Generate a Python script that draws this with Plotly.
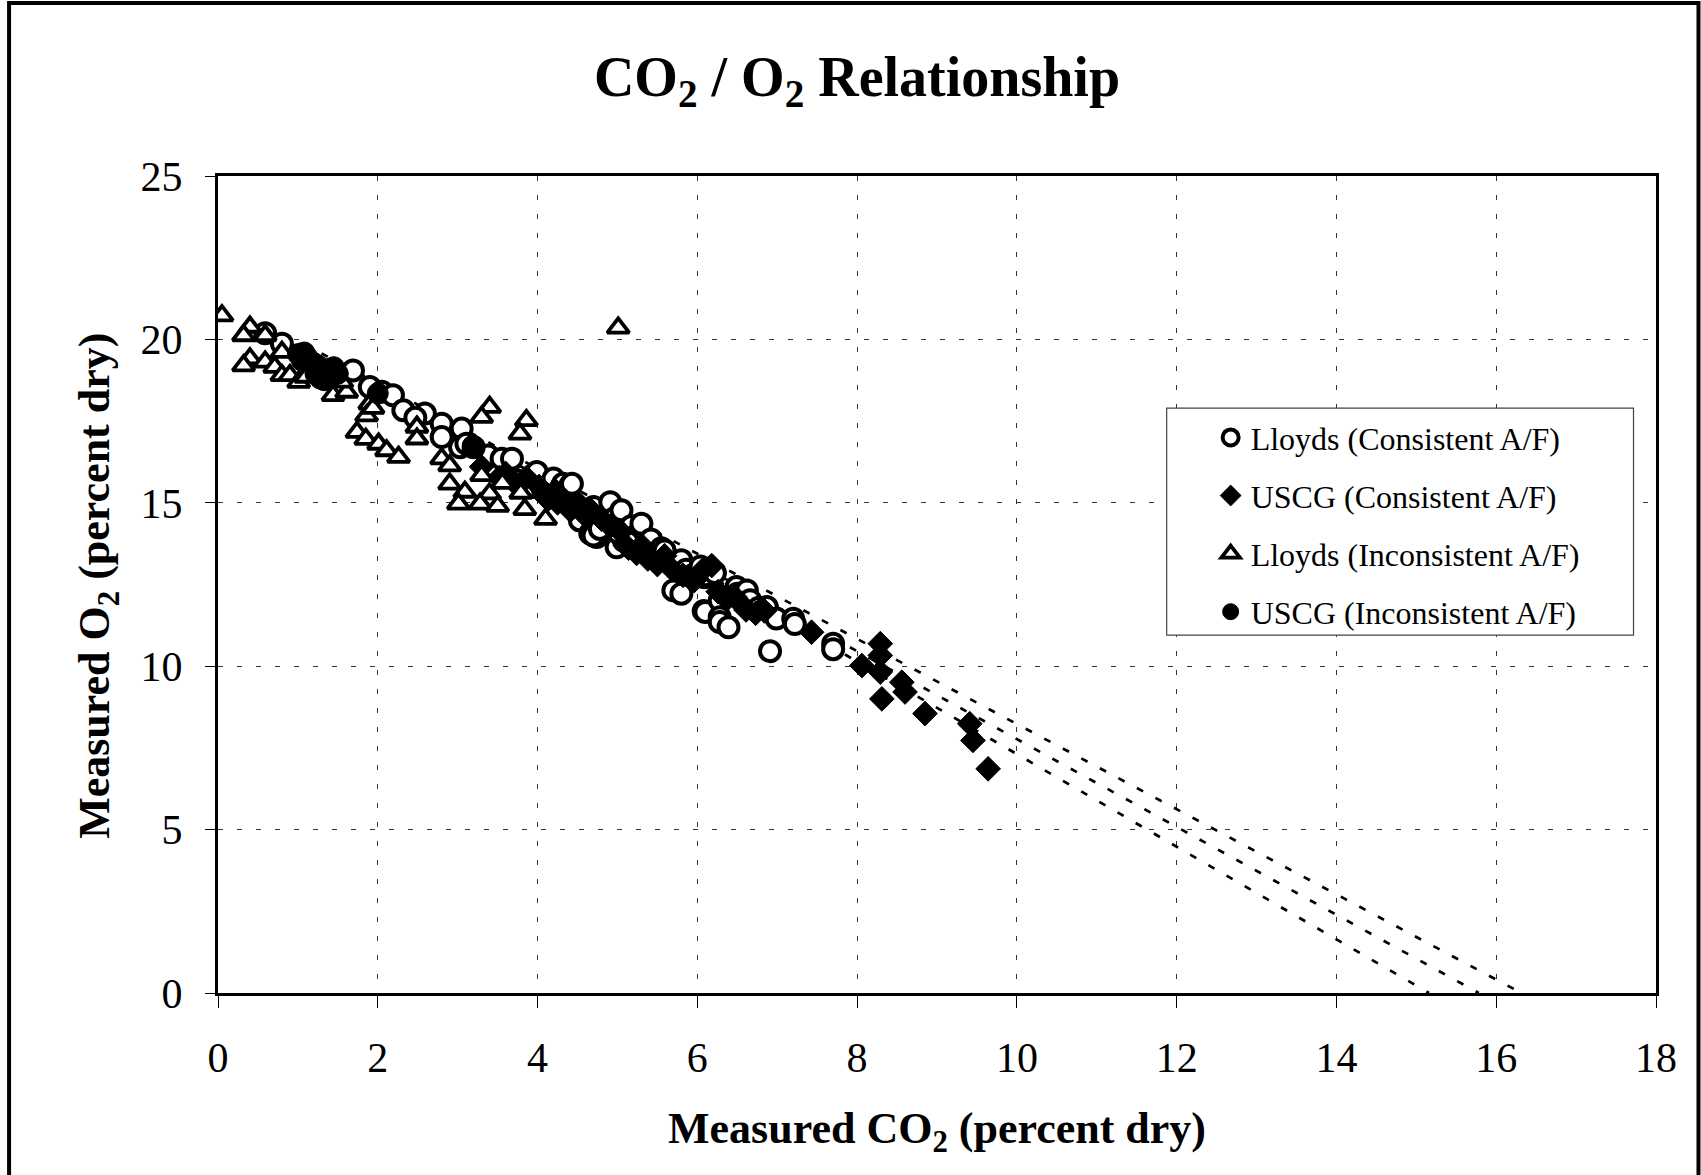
import plotly.graph_objects as go

W, H = 1701, 1175
L, R, T, B = 218, 1656.5, 176, 992.6   # plot area in pixels

# ---------------- data ----------------
lloyds_con_co2 = [0.59, 0.80, 1.69, 1.90, 2.05, 2.19, 2.32, 2.59, 2.80, 2.80, 3.05, 3.03, 3.11, 3.38, 3.55,
                  3.68, 3.74, 3.84, 3.94, 3.99, 4.07, 4.11, 4.20, 4.30, 4.32, 4.41, 4.43, 4.53, 4.66, 4.70,
                  4.74, 4.82, 4.91, 4.97, 4.99, 5.05, 5.08, 5.17, 5.20, 5.30, 5.31, 5.39, 5.42, 5.48, 5.55,
                  5.59, 5.70, 5.77, 5.80, 5.80, 5.86, 5.95, 6.04, 6.08, 6.09, 6.10, 6.10, 6.22, 6.28, 6.28,
                  6.28, 6.39, 6.49, 6.50, 6.62, 6.66, 6.77, 6.87, 6.91, 6.99, 7.20, 7.22, 7.70, 7.70, 4.66,
                  4.70, 4.78, 5.00, 5.13, 3.20, 2.47]
lloyds_con_o2 = [20.19, 19.87, 19.05, 18.54, 18.40, 18.29, 17.83, 17.73, 17.42, 17.01, 17.27, 16.70, 16.81, 16.45, 16.35,
                 16.35, 15.69, 15.58, 15.48, 15.94, 15.38, 15.28, 15.74, 15.48, 15.58, 15.53, 15.58, 14.46, 14.67, 14.87,
                 13.95, 14.16, 15.02, 14.54, 13.64, 14.77, 13.84, 14.28, 13.95, 14.36, 13.55, 13.64, 13.88, 13.28, 13.61,
                 13.54, 12.32, 13.11, 13.24, 12.22, 12.95, 12.80, 13.05, 11.69, 12.72, 12.78, 11.66, 12.85, 12.01, 11.50,
                 11.35, 11.19, 12.42, 12.22, 12.32, 12.02, 11.79, 11.81, 10.46, 11.46, 11.45, 11.29, 10.69, 10.52, 14.06,
                 14.00, 14.20, 14.10, 13.80, 16.70, 17.60]

uscg_con_co2 = [3.30, 3.52, 3.60, 3.69, 3.86, 4.02, 4.13, 4.22, 4.25, 4.33, 4.41, 4.53, 4.60, 4.67, 4.80,
                4.91, 5.04, 5.14, 5.24, 5.30, 5.38, 5.50, 5.59, 5.69, 5.82, 5.96, 6.07, 6.18, 6.26, 6.37,
                6.47, 6.55, 6.61, 6.73, 6.84, 7.43, 8.06, 8.29, 8.29, 8.29, 8.31, 8.56, 8.60, 8.85, 9.41,
                9.45, 9.64]
uscg_con_o2 = [16.10, 15.77, 15.90, 15.67, 15.77, 15.50, 15.10, 15.37, 15.00, 15.04, 14.77, 14.94, 14.60, 14.77, 14.50,
               14.28, 14.11, 13.61, 13.45, 13.70, 13.28, 13.11, 13.38, 12.95, 12.78, 12.62, 12.95, 13.08, 12.28, 12.05,
               12.12, 11.90, 11.72, 11.62, 11.69, 11.04, 10.02, 10.69, 10.33, 9.82, 9.00, 9.51, 9.21, 8.55, 8.24,
               7.73, 6.86]

lloyds_incon_co2 = [0.05, 0.40, 0.32, 0.59, 0.40, 0.32, 0.59, 0.71, 0.80, 0.90, 1.01, 0.80, 1.44, 1.61, 1.90,
                    1.86, 1.74, 1.85, 1.94, 2.01, 2.11, 2.26, 2.49, 2.49, 2.80, 2.90, 2.90, 3.09, 3.01, 3.30,
                    3.40, 3.28, 3.40, 3.30, 3.86, 3.78, 3.50, 3.56, 3.79, 3.84, 4.10, 5.01, 1.10, 1.55]
lloyds_incon_o2 = [20.73, 20.38, 20.12, 20.12, 19.41, 19.20, 19.31, 19.15, 18.90, 18.90, 18.69, 19.61, 18.29, 18.39, 18.03,
                   17.67, 17.16, 16.95, 17.90, 16.80, 16.60, 16.40, 17.32, 16.96, 16.35, 16.14, 15.58, 15.33, 14.97, 15.84,
                   15.28, 14.97, 17.93, 17.62, 17.52, 17.11, 14.90, 15.60, 15.30, 14.80, 14.50, 20.35, 18.85, 18.70]

uscg_incon_co2 = [1.00, 1.08, 1.12, 1.18, 1.05, 1.25, 1.30, 1.22, 1.35, 1.40, 1.45, 1.50, 1.33, 1.42, 1.28, 2.00, 3.19]
uscg_incon_o2 = [19.55, 19.60, 19.45, 19.30, 19.35, 19.20, 19.05, 18.95, 18.90, 19.10, 19.15, 18.95, 18.75, 18.85, 18.80, 18.35, 16.75]

# fitted trend lines: start CO2, intercept, slope
trend_start = [0.6, 1.0, 3.3]
trend_intercepts = [21.26, 21.21, 21.48]
trend_slopes = [-1.303, -1.344, -1.417]

x_ticks = [0, 2, 4, 6, 8, 10, 12, 14, 16, 18]
y_ticks = [0, 5, 10, 15, 20, 25]

FONT = "Times New Roman, Liberation Serif, serif"


def px(x):
    return (x - L) / (R - L)


def py(y):
    return (B - y) / (B - T)


fig = go.Figure()

# trend lines (forecast to O2 = 0)
for x0, b0, m in zip(trend_start, trend_intercepts, trend_slopes):
    xs = [x0, -b0 / m]
    fig.add_trace(go.Scatter(x=xs, y=[b0 + m * v for v in xs], mode="lines",
                             line=dict(color="black", width=2.7, dash="7px,14px"),
                             showlegend=False, hoverinfo="skip"))

fig.add_trace(go.Scatter(x=lloyds_con_co2, y=lloyds_con_o2, mode="markers", name="Lloyds (Consistent A/F)",
                         legendgroup="a", legendrank=1,
                         marker=dict(symbol="circle", size=20, color="white", line=dict(color="black", width=4))))
fig.add_trace(go.Scatter(x=uscg_con_co2, y=uscg_con_o2, mode="markers", name="USCG (Consistent A/F)",
                         legendgroup="b", legendrank=2,
                         marker=dict(symbol="diamond", size=19, color="black", line=dict(color="black", width=1))))
fig.add_trace(go.Scatter(x=lloyds_incon_co2, y=lloyds_incon_o2, mode="markers", name="Lloyds (Inconsistent A/F)",
                         legendgroup="c", legendrank=3,
                         marker=dict(symbol="triangle-up", size=19, color="white", line=dict(color="black", width=3.8))))
fig.add_trace(go.Scatter(x=uscg_incon_co2, y=uscg_incon_o2, mode="markers", name="USCG (Inconsistent A/F)",
                         legendgroup="d", legendrank=4,
                         marker=dict(symbol="circle", size=21, color="black", line=dict(color="black", width=1))))

axis_common = dict(showline=True, linecolor="black", linewidth=3, mirror=True, ticks="outside",
                   tickcolor="black", tickwidth=1, showgrid=True, gridcolor="#333", gridwidth=1,
                   griddash="5px,14px", zeroline=False, tickfont=dict(family=FONT, size=42, color="black"))

fig.update_xaxes(range=[0, 18], tickvals=x_ticks, ticklen=12, ticklabelstandoff=14, **axis_common)
fig.update_yaxes(range=[0, 25], tickvals=y_ticks, ticklen=10, ticklabelstandoff=14, **axis_common)

fig.update_layout(
    width=W, height=H,
    margin=dict(l=L, r=W - R, t=T, b=H - B),
    paper_bgcolor="white", plot_bgcolor="white",
    font=dict(family=FONT, color="black"),
    title=dict(text="<b>CO<sub>2</sub> / O<sub>2</sub> Relationship</b>", x=857 / W, xanchor="center",
               y=1 - 76 / H, yanchor="middle", font=dict(family=FONT, size=56, color="black")),
    legend=dict(x=px(1211), y=py(410), xanchor="left", yanchor="top", bgcolor="rgba(0,0,0,0)",
                borderwidth=0, font=dict(family=FONT, size=32, color="black"), tracegroupgap=13.5,
                itemsizing="trace"),
    annotations=[
        dict(text="<b>Measured CO<sub>2</sub> (percent dry)</b>", xref="paper", yref="paper",
             x=0.5, y=py(1131.5), xanchor="center", yanchor="middle", showarrow=False,
             font=dict(family=FONT, size=44, color="black")),
        dict(text="<b>Measured O<sub>2</sub> (percent dry)</b>", xref="paper", yref="paper",
             x=px(97.6), y=py(586), xanchor="center", yanchor="middle", showarrow=False, textangle=-90,
             font=dict(family=FONT, size=44, color="black")),
    ],
    shapes=[
        dict(type="rect", xref="paper", yref="paper", x0=px(9), x1=px(1699), y0=py(3), y1=py(1185),
             line=dict(color="black", width=4), fillcolor="rgba(0,0,0,0)", layer="below"),
        dict(type="rect", xref="paper", yref="paper", x0=px(1167), x1=px(1634), y0=py(408), y1=py(635),
             line=dict(color="#444", width=1.2), fillcolor="white", layer="above"),
    ],
)

fig.write_html("out.html")
